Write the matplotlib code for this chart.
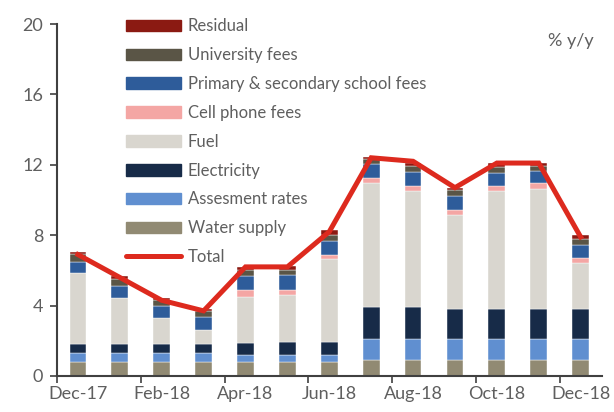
import numpy as np
import matplotlib.pyplot as plt
from matplotlib.patches import Patch
from matplotlib.lines import Line2D

plt.rcParams['font.family'] = ['Lato', 'DejaVu Sans']

months = ["Dec-17", "Jan-18", "Feb-18", "Mar-18", "Apr-18", "May-18", "Jun-18",
          "Jul-18", "Aug-18", "Sep-18", "Oct-18", "Nov-18", "Dec-18"]

water_supply = [0.81, 0.81, 0.81, 0.81, 0.81, 0.81, 0.81, 0.91, 0.91, 0.91, 0.91, 0.91, 0.91]
assessment_rates = [0.51, 0.51, 0.51, 0.51, 0.38, 0.38, 0.38, 1.19, 1.19, 1.19, 1.19, 1.19, 1.19]
electricity = [0.48, 0.48, 0.48, 0.48, 0.70, 0.72, 0.72, 1.80, 1.80, 1.71, 1.71, 1.71, 1.71]
fuel = [4.03, 2.61, 1.51, 0.81, 2.62, 2.71, 4.72, 7.05, 6.63, 5.34, 6.72, 6.82, 2.63]
cell_phone = [-0.05, -0.05, -0.05, -0.03, 0.38, 0.29, 0.25, 0.28, 0.28, 0.26, 0.28, 0.32, 0.28]
school_fees = [0.66, 0.70, 0.69, 0.76, 0.81, 0.81, 0.81, 0.80, 0.80, 0.82, 0.70, 0.70, 0.72]
university_fees = [0.42, 0.40, 0.32, 0.32, 0.32, 0.32, 0.32, 0.28, 0.32, 0.34, 0.35, 0.28, 0.33]
residual = [0.11, 0.17, 0.09, 0.10, 0.19, 0.19, 0.29, 0.11, 0.19, 0.13, 0.22, 0.19, 0.24]
total = [6.9, 5.6, 4.3, 3.7, 6.2, 6.2, 8.2, 12.4, 12.2, 10.7, 12.1, 12.1, 7.9]

series = [
    ("Water supply", water_supply, "#918a73"),
    ("Assesment rates", assessment_rates, "#608fd0"),
    ("Electricity", electricity, "#172b48"),
    ("Fuel", fuel, "#d9d6cf"),
    ("Cell phone fees", cell_phone, "#f4a6a4"),
    ("Primary & secondary school fees", school_fees, "#2e5c9a"),
    ("University fees", university_fees, "#5a5546"),
    ("Residual", residual, "#8b1a12"),
]

txt = "#5f5f5f"
fig = plt.figure(figsize=(6.14, 4.12), dpi=100)
ax = fig.add_axes([0.0928, 0.0874, 0.887, 0.8543])

x = np.arange(len(months))
pos = np.zeros(len(months))
neg = np.zeros(len(months))
for name, vals, col in series:
    v = np.array(vals)
    bottom = np.where(v >= 0, pos, neg)
    ax.bar(x, v, 0.4, bottom=bottom, color=col, edgecolor="white", linewidth=0.3, zorder=2)
    pos = pos + np.where(v >= 0, v, 0)
    neg = neg + np.where(v < 0, v, 0)

ax.plot(x, total, color="#dd2a1e", lw=3.6, zorder=3, solid_joinstyle="miter")

ax.set_xlim(-0.5, 12.5)
ax.set_ylim(0, 20)
ax.set_yticks(range(0, 21, 4))
ax.set_xticks(x[::2])
ax.set_xticklabels(months[::2])
ax.set_xticks(np.arange(-0.5, 12, 2), minor=True)
ax.tick_params(axis="x", which="major", length=0, pad=7, labelsize=13, labelcolor=txt)
ax.tick_params(axis="x", which="minor", length=5, width=1.2, color="#404040")
ax.tick_params(axis="y", length=5, width=1.2, color="#404040", labelsize=13, labelcolor=txt, pad=5)
for s in ["top", "right"]:
    ax.spines[s].set_visible(False)
for s in ["left", "bottom"]:
    ax.spines[s].set_color("#404040")
    ax.spines[s].set_linewidth(1.5)

ax.text(0.985, 0.975, "% y/y", transform=ax.transAxes, ha="right", va="top",
        fontsize=13, color=txt)

handles = [Patch(color=col, label=name) for name, vals, col in reversed(series)]
handles.append(Line2D([0], [0], color="#dd2a1e", lw=3.6, label="Total",
                      solid_capstyle="round"))
leg = ax.legend(handles=handles, loc="upper left", bbox_to_anchor=(0.115, 1.035),
                frameon=False, fontsize=12, handlelength=3.3, handleheight=0.7,
                handletextpad=0.4, labelspacing=0.77, borderaxespad=0)
for t in leg.get_texts():
    t.set_color(txt)

fig.savefig("out.png", dpi=100)
